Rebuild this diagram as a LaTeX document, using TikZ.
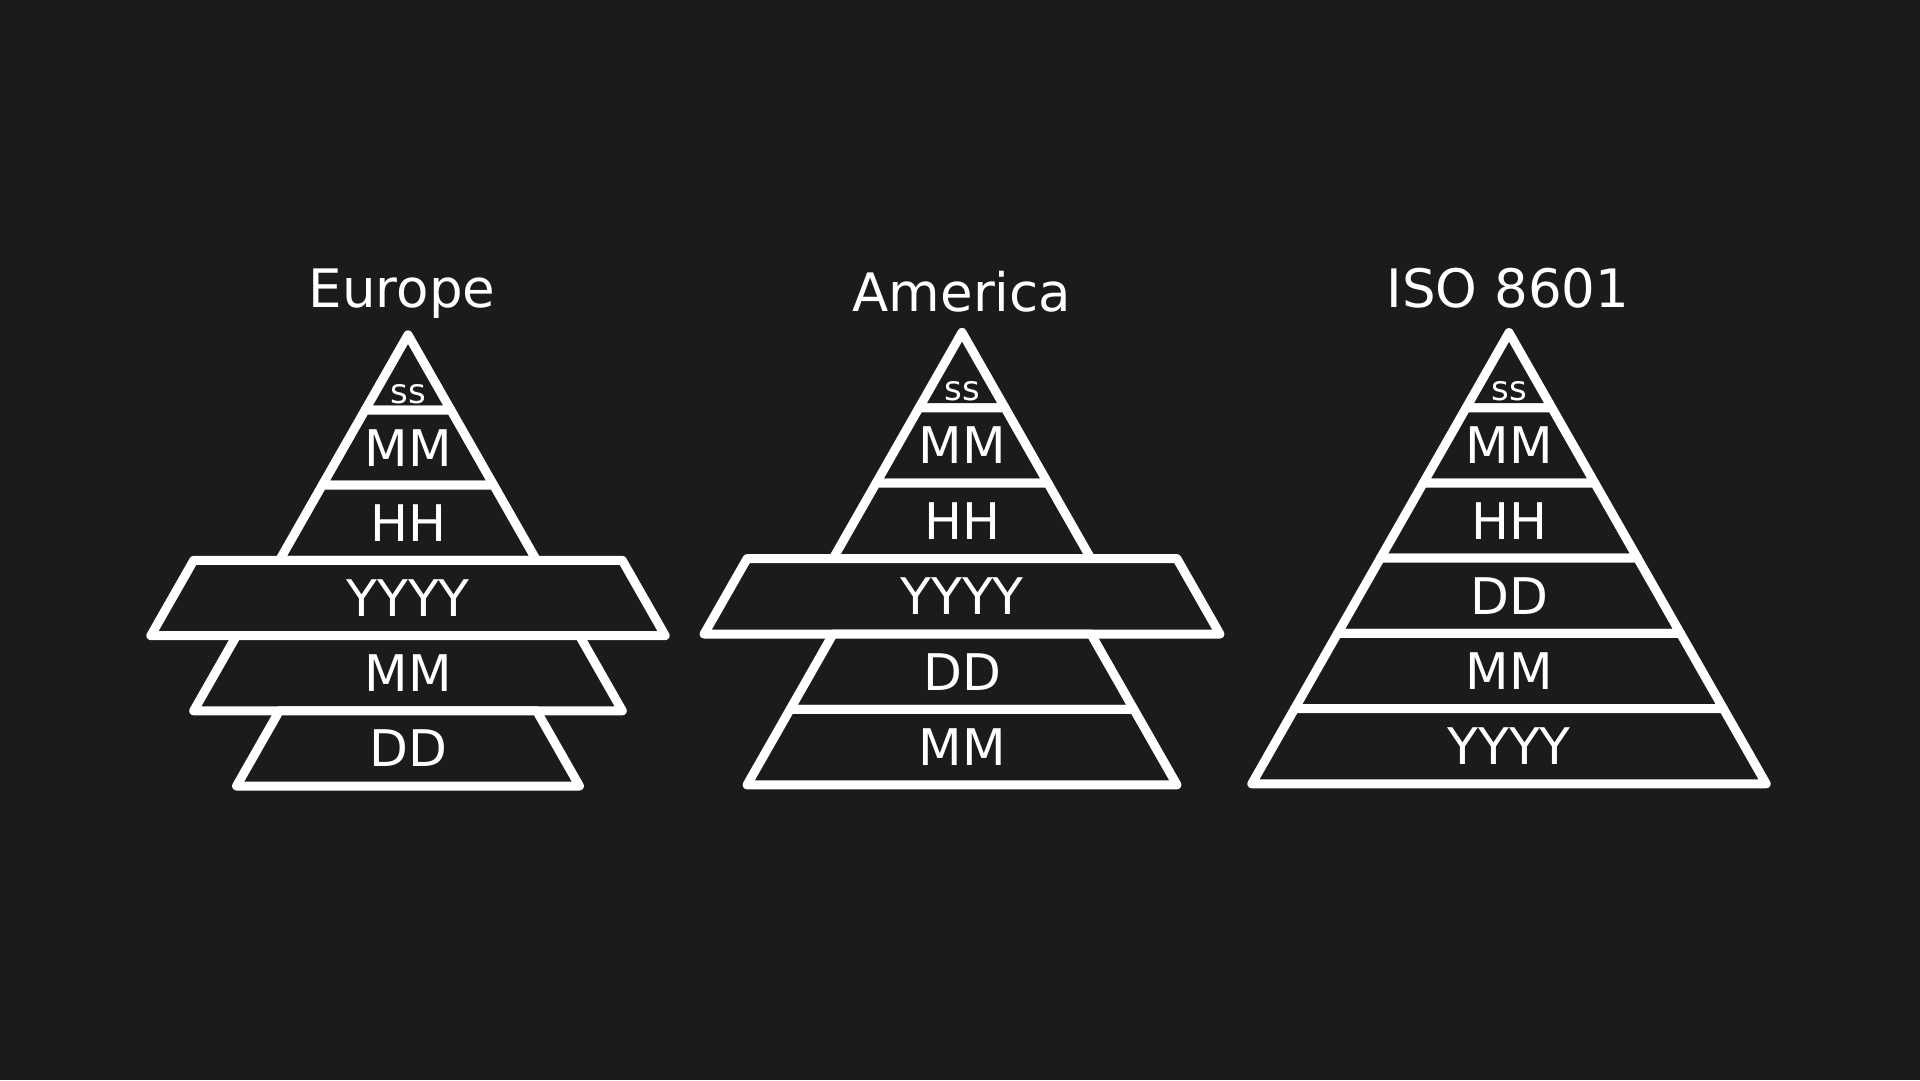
\documentclass[tikz,border=0pt]{standalone}
\usepackage{fontspec}
\setmainfont{DejaVu Sans}
\definecolor{bg}{HTML}{1B1B1B}
\definecolor{fg}{HTML}{FFFFFF}

% half-width growth of a pyramid per unit of depth
\def\slope{0.57}

% \layer{cx}{apex y}{row height}{position}{shape row}
% draws one closed layer; its outline is taken from row "shape row"
% of a full pyramid and it is set into slot "position"
\newcommand\layer[5]{%
  \pgfmathsetmacro\yt{#2+#4*#3}%
  \pgfmathsetmacro\yb{#2+(#4+1)*#3}%
  \pgfmathsetmacro\wt{\slope*#5*#3}%
  \pgfmathsetmacro\wb{\slope*(#5+1)*#3}%
  \draw[layerbox] (#1-\wt,\yt) -- (#1+\wt,\yt) -- (#1+\wb,\yb) -- (#1-\wb,\yb) -- cycle;
}

\tikzset{
  layerbox/.style={draw=fg, fill=bg, line width=9pt, line join=round},
  lbl/.style={text=fg, font=\fontsize{50.5}{50.5}\selectfont, anchor=base, inner sep=0pt},
  sec/.style={text=fg, font=\fontsize{34}{34}\selectfont, anchor=base, inner sep=0pt},
  heading/.style={text=fg, font=\fontsize{53}{53}\selectfont, anchor=base, inner sep=0pt}
}

\begin{document}
\begin{tikzpicture}[x=1pt, y=-1pt]
\fill[bg] (0,0) rectangle (1920,1080);
\useasboundingbox (0,0) rectangle (1920,1080);

% ---- Europe: ss / MM / HH / YYYY / MM / DD
\foreach \pos/\shp/\txt/\nm in {0/0/ss/eu0, 1/1/MM/eu1, 2/2/HH/eu2, 3/5/YYYY/eu3, 4/4/MM/eu4, 5/3/DD/eu5}{
  \layer{408}{334.8}{75.2}{\pos}{\shp}
  \ifnum\pos=0
    \node[sec] (\nm) at (408, 334.8+75.2-7) {\txt};
  \else
    \node[lbl] (\nm) at (408, 334.8+\pos*75.2+37.6+18.4) {\txt};
  \fi
}
\node[heading] (eutitle) at (402,307) {Europe};

% ---- America: ss / MM / HH / YYYY / DD / MM
\foreach \pos/\shp/\txt/\nm in {0/0/ss/us0, 1/1/MM/us1, 2/2/HH/us2, 3/5/YYYY/us3, 4/3/DD/us4, 5/4/MM/us5}{
  \layer{962}{332.4}{75.4}{\pos}{\shp}
  \ifnum\pos=0
    \node[sec] (\nm) at (962, 332.4+75.4-7) {\txt};
  \else
    \node[lbl] (\nm) at (962, 332.4+\pos*75.4+37.7+18.4) {\txt};
  \fi
}
\node[heading] (ustitle) at (962,311) {America};

% ---- ISO 8601: ss / MM / HH / DD / MM / YYYY
\foreach \pos/\shp/\txt/\nm in {0/0/ss/iso0, 1/1/MM/iso1, 2/2/HH/iso2, 3/3/DD/iso3, 4/4/MM/iso4, 5/5/YYYY/iso5}{
  \layer{1509}{332.6}{75.2}{\pos}{\shp}
  \ifnum\pos=0
    \node[sec] (\nm) at (1509, 332.6+75.2-7) {\txt};
  \else
    \node[lbl] (\nm) at (1509, 332.6+\pos*75.2+37.6+18.4) {\txt};
  \fi
}
\node[heading] (isotitle) at (1508,307) {ISO 8601};
\end{tikzpicture}
\end{document}
